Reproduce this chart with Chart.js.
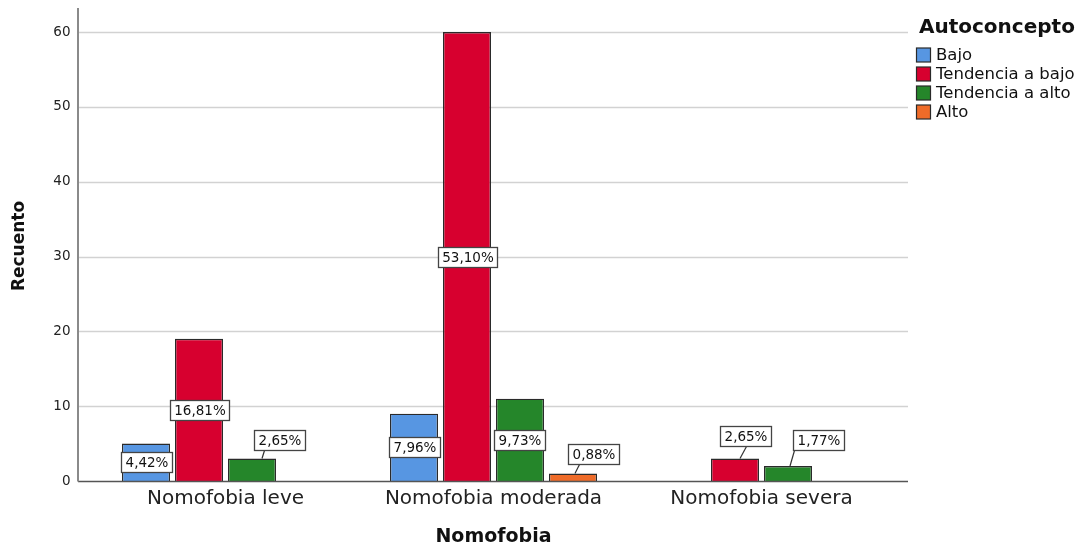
<!DOCTYPE html>
<html>
<head>
<meta charset="UTF-8">
<title>Nomofobia - Autoconcepto</title>
<script src="https://cdn.jsdelivr.net/npm/chart.js@4.4.1/dist/chart.umd.min.js"></script>
<style>
	html, body { margin: 0; padding: 0; background: #fff; }
	#holder { width: 1084px; height: 548px; }
</style>
</head>
<body>
<div id="holder"><canvas id="grafico"></canvas></div>
<script>
	// datos (recuentos)
	var categorias = ['Nomofobia leve', 'Nomofobia moderada', 'Nomofobia severa'];
	var series = ['Bajo', 'Tendencia a bajo', 'Tendencia a alto', 'Alto'];
	var bajo = [5, 9, 0];
	var tendenciaBajo = [19, 60, 3];
	var tendenciaAlto = [3, 11, 2];
	var alto = [0, 1, 0];
	var ticksY = [0, 10, 20, 30, 40, 50, 60];

	var colores = ['#5796e2', '#d7002f', '#25862a', '#ef6b28'];
	var borde = '#2a2a2a';

	// etiquetas de barras bajas: [dx, dy, inicio linea, fin linea]
	var desplazados = {
		'2-0': [28, -19, 10, 10],
		'3-1': [21, -20, 2, 11],
		'1-2': [10, -23, 5, 26],
		'2-2': [31, -26, 2, 1]
	};

	var valores = [bajo, tendenciaBajo, tendenciaAlto, alto];
	var total = 0;
	valores.forEach(function (s) { s.forEach(function (v) { total += v; }); });

	var fuente = '"DejaVu Sans", Verdana, sans-serif';

	var fondo = {
		id: 'fondo',
		beforeDatasetsDraw: function (chart) {
			var ctx = chart.ctx, a = chart.chartArea, y = chart.scales.y;
			var x0 = a.left - 13.5, x1 = a.right + 12.5;
			ctx.save();
			ctx.strokeStyle = '#d2d2d2';
			ctx.lineWidth = 1.5;
			ticksY.forEach(function (t) {
				if (t === 0) return;
				var py = Math.round(y.getPixelForValue(t)) + 0.5;
				ctx.beginPath(); ctx.moveTo(x0, py); ctx.lineTo(x1, py); ctx.stroke();
			});
			ctx.restore();
		},
		afterDatasetsDraw: function (chart) {
			var ctx = chart.ctx, a = chart.chartArea, y = chart.scales.y;
			var x0 = a.left - 13.5, x1 = a.right + 12.5;
			var base = Math.round(y.getPixelForValue(0)) + 0.5;
			ctx.save();
			ctx.strokeStyle = '#555';
			ctx.lineWidth = 1.5;
			ctx.beginPath(); ctx.moveTo(x0, base); ctx.lineTo(x1, base); ctx.stroke();
			ctx.strokeStyle = '#8a8a8a';
			ctx.lineWidth = 2;
			ctx.beginPath(); ctx.moveTo(x0, a.top); ctx.lineTo(x0, base); ctx.stroke();
			ctx.restore();
		}
	};

	var etiquetas = {
		id: 'etiquetas',
		afterDatasetsDraw: function (chart) {
			var ctx = chart.ctx;
			ctx.save();
			ctx.font = '13.5px ' + fuente;
			ctx.textAlign = 'center';
			ctx.textBaseline = 'middle';
			chart.data.datasets.forEach(function (ds, i) {
				var meta = chart.getDatasetMeta(i);
				meta.data.forEach(function (bar, j) {
					var v = ds.data[j];
					if (!v) return;
					var txt = (v * 100 / total).toFixed(2).replace('.', ',') + '%';
					var w = Math.round(ctx.measureText(txt).width + 8), h = 20;
					var cx = bar.x, cy = (bar.y + bar.base) / 2;
					var d = desplazados[i + '-' + j];
					if (d) {
						cx = bar.x + d[0];
						cy = bar.y + d[1];
					}
					var left = Math.round(cx - w / 2) + 0.5, top = Math.round(cy - h / 2) + 0.5;
					if (d) {
						ctx.strokeStyle = '#333';
						ctx.lineWidth = 1.2;
						ctx.beginPath();
						ctx.moveTo(bar.x + d[2], bar.y);
						ctx.lineTo(left + d[3], top + h);
						ctx.stroke();
					}
					ctx.fillStyle = '#fff';
					ctx.fillRect(left, top, w, h);
					ctx.strokeStyle = '#444';
					ctx.lineWidth = 1.3;
					ctx.strokeRect(left, top, w, h);
					ctx.fillStyle = '#111';
					ctx.fillText(txt, left + w / 2, top + h / 2 + 1);
				});
			});
			ctx.restore();
		}
	};

	var textos = {
		id: 'textos',
		afterDraw: function (chart) {
			var ctx = chart.ctx, a = chart.chartArea;
			ctx.save();
			ctx.fillStyle = '#111';
			ctx.textBaseline = 'middle';
			// titulos de ejes
			ctx.font = 'bold 19px ' + fuente;
			ctx.textAlign = 'center';
			ctx.fillText('Nomofobia', (a.left + a.right) / 2, 537);
			ctx.save();
			ctx.translate(20, 246);
			ctx.rotate(-Math.PI / 2);
			ctx.font = 'bold 17px ' + fuente;
			ctx.fillText('Recuento', 0, 0);
			ctx.restore();
			// leyenda
			ctx.textAlign = 'left';
			ctx.font = 'bold 20px ' + fuente;
			ctx.fillText('Autoconcepto', 919, 28);
			ctx.font = '16.5px ' + fuente;
			var ys = [55, 74, 93, 112];
			chart.data.datasets.forEach(function (ds, i) {
				ctx.fillStyle = ds.backgroundColor;
				ctx.fillRect(916.5, ys[i] - 7, 14, 14);
				ctx.strokeStyle = borde;
				ctx.lineWidth = 1.2;
				ctx.strokeRect(916.5, ys[i] - 7, 14, 14);
				ctx.fillStyle = '#111';
				ctx.fillText(ds.label, 936, ys[i] + 1);
			});
			ctx.restore();
		}
	};

	var config = {
		type: 'bar',
		data: {
			labels: categorias,
			datasets: series.map(function (nombre, i) {
				return {
					label: nombre,
					data: valores[i],
					backgroundColor: colores[i],
					borderColor: borde,
					borderWidth: 1.4,
					categoryPercentage: 0.791,
					barPercentage: 0.906
				};
			})
		},
		options: {
			responsive: false,
			animation: false,
			maintainAspectRatio: false,
			layout: { padding: { top: 8, right: 188.5, bottom: 0, left: 0 } },
			plugins: {
				legend: { display: false },
				tooltip: { enabled: false }
			},
			scales: {
				x: {
					grid: { display: false, drawTicks: false },
					border: { display: false },
					ticks: {
						font: { family: fuente, size: 20 },
						color: '#222',
						padding: 6,
						maxRotation: 0
					},
					afterFit: function (s) { s.height = 67; }
				},
				y: {
					min: 0,
					max: 63.2,
					grid: { display: false, drawTicks: true, tickLength: 21 },
					border: { display: false },
					ticks: {
						stepSize: 10,
						font: { family: fuente, size: 13.5 },
						color: '#222',
						padding: 0
					},
					afterBuildTicks: function (s) {
						s.ticks = ticksY.map(function (t) { return { value: t }; });
					},
					afterFit: function (s) { s.width = 91.5; }
				}
			}
		},
		plugins: [fondo, etiquetas, textos]
	};

	window.onload = function () {
		var cv = document.getElementById('grafico');
		cv.width = 1084;
		cv.height = 548;
		cv.style.width = '1084px';
		cv.style.height = '548px';
		window.miGrafico = new Chart(cv.getContext('2d'), config);
	};
</script>
</body>
</html>
